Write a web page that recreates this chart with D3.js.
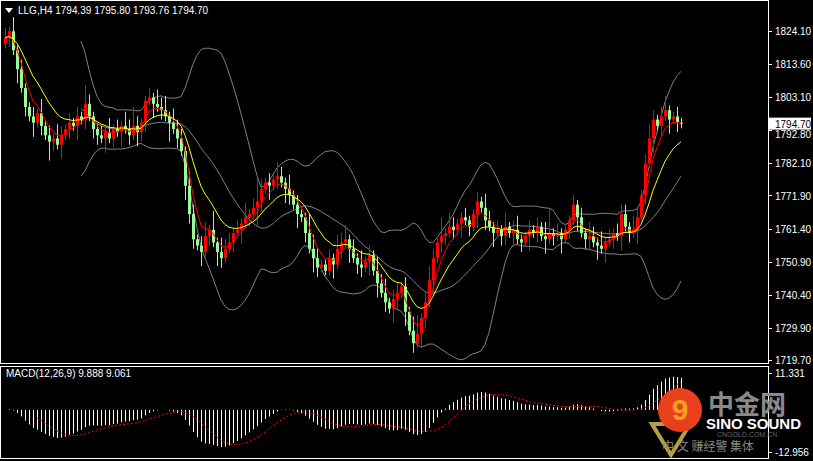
<!DOCTYPE html>
<html>
<head>
<meta charset="utf-8">
<script src="https://d3js.org/d3.v7.min.js"></script>
<style>
body{margin:0;background:#000;}
text{font-family:"Liberation Sans",Arial,sans-serif;font-size:10px;}
</style>
</head>
<body>
<svg id="c" width="813" height="461"></svg>
<script>
// H4 closes
var closes = [1822,1824,1818,1812,1806, 1800,1797,1795,1798,1794, 1791,1789,1790,1788,1791,
 1793,1795,1794,1797,1796, 1801,1797,1793,1791,1790, 1792,1790,1793,1792,1794,
 1793,1791,1794,1792,1795, 1802,1803,1801,1800,1799, 1797,1795,1793,1790,1786,
 1775,1766,1758,1756,1754, 1759,1761,1757,1754,1752, 1755,1757,1760,1761,1763,
 1765,1766,1768,1770,1774, 1776,1775,1777,1778,1776, 1774,1772,1769,1766,1765,
 1760,1755,1752,1749,1750, 1748,1752,1750,1755,1757, 1758,1755,1752,1750,1749,
 1751,1753,1748,1744,1741, 1738,1736,1739,1741,1743, 1735,1729,1725,1728,1733,
 1738,1745,1752,1757,1759, 1760,1762,1761,1763,1765, 1764,1762,1766,1770,1768,
 1764,1762,1760,1761,1759, 1762,1760,1761,1758,1757, 1759,1761,1760,1762,1759,
 1758,1760,1759,1760,1758, 1761,1764,1769,1765,1760, 1758,1759,1757,1756,1755,
 1757,1758,1760,1759,1766, 1762,1760,1761,1765,1772, 1782,1790,1796,1794,1797,
 1799,1796,1797,1795,1794.7];
var firstOpen = 1820;
// wick lengths above / below the body, in dollars
var upWick = "2131211213121321212142112131213242112132313221321231413221213125212132131211432112132312131213231221213412321413211211213212131231121213512111212132131212221321232123112121";
var dnWick = "1213121312142131213121221312131213221312141213221312132112131214213121321312132111312131221313121321312132131221213121312131221312131213121312131221313121312131213121312131";
var yTicks = [1824.10,1813.60,1803.10,1792.80,1782.10,1771.90,1761.40,1750.90,1740.40,1729.90,1719.70];
var macdTicks = [11.331,-12.956];

var W = 813, H = 461, plotR = 768, mainTop = 8, mainBot = 363, mTop = 366, mBot = 458;
var svg = d3.select("#c");
svg.append("rect").attr("width",W).attr("height",H).attr("fill","#000");

var data = closes.map(function(c,i){
  var o = i ? closes[i-1] : firstOpen;
  return {i:i, o:o, c:c, h:Math.max(o,c)+ +upWick[i]*1.5, l:Math.min(o,c)- +dnWick[i]*1.5};
});

var x = d3.scaleLinear().domain([0,170]).range([5,685]);
var y = d3.scaleLinear().domain([1719.70,1824.10]).range([360,31]);

// indicators
function sma(arr,n){return arr.map(function(v,i){ if(i<n-1) return null; return d3.mean(arr.slice(i-n+1,i+1)); });}
function ema(arr,n){var k=2/(n+1),p=arr[0];return arr.map(function(v){p=v*k+p*(1-k);return p;});}
var bbMid = sma(closes,20);
var bbUp = [], bbDn = [];
closes.forEach(function(v,i){
  if(i<19){bbUp.push(null);bbDn.push(null);return;}
  var sd = d3.deviation(closes.slice(i-19,i+1))*Math.sqrt(19/20);
  bbUp.push(bbMid[i]+2*sd); bbDn.push(bbMid[i]-2*sd);
});
var maFast = ema(closes,5), maSlow = ema(closes,12);
var e12 = ema(closes,12), e26 = ema(closes,26);
var macd = e12.map(function(v,i){return v-e26[i];});
var signal = sma(macd,9);

var main = svg.append("g");
main.append("clipPath").attr("id","clp").append("rect").attr("x",1).attr("y",mainTop).attr("width",plotR-1).attr("height",mainBot-mainTop);
var g = main.append("g").attr("clip-path","url(#clp)");

function line(arr,col){
  g.append("path").datum(arr.map(function(v,i){return [i,v];}).filter(function(d){return d[1]!=null;}))
   .attr("fill","none").attr("stroke",col).attr("stroke-width",1)
   .attr("d",d3.line().x(function(d){return x(d[0]);}).y(function(d){return y(d[1]);}));
}
line(bbUp,"#808080"); line(bbMid,"#808080"); line(bbDn,"#808080");

var cg = g.selectAll("g.k").data(data).enter().append("g");
cg.append("line").attr("x1",function(d){return x(d.i)+0.5;}).attr("x2",function(d){return x(d.i)+0.5;})
  .attr("y1",function(d){return y(d.h);}).attr("y2",function(d){return y(d.l);})
  .attr("stroke",function(d){return d.c>=d.o?"#ff0000":"#98fb98";});
cg.append("rect").attr("x",function(d){return x(d.i)-1;}).attr("width",3)
  .attr("y",function(d){return y(Math.max(d.o,d.c));})
  .attr("height",function(d){return Math.max(1,Math.abs(y(d.o)-y(d.c)));})
  .attr("fill",function(d){return d.c>=d.o?"#ff0000":"#98fb98";});

line(maFast,"#ff0000"); line(maSlow,"#ffff00");

// frames
svg.append("rect").attr("x",0.5).attr("y",0.5).attr("width",plotR).attr("height",mainBot).attr("fill","none").attr("stroke","#fff");
svg.append("rect").attr("x",0.5).attr("y",mTop+0.5).attr("width",plotR).attr("height",mBot-mTop).attr("fill","none").attr("stroke","#fff");

// right axis
var last = closes[closes.length-1];
yTicks.forEach(function(t){
  svg.append("line").attr("x1",plotR).attr("x2",plotR+4).attr("y1",Math.round(y(t))+0.5).attr("y2",Math.round(y(t))+0.5).attr("stroke","#fff");
  if (Math.abs(y(t)-y(last)) > 8)
    svg.append("text").attr("x",775).attr("y",y(t)+4).attr("fill","#fff").text(t.toFixed(2));
});
svg.append("text").attr("x",775).attr("y",y(1792.80)+8).attr("fill","#fff").text("1792.80");
svg.append("rect").attr("x",plotR+1).attr("y",y(last)-6).attr("width",42).attr("height",12).attr("fill","#fff");
svg.append("text").attr("x",775).attr("y",y(last)+4).attr("fill","#000").text(last.toFixed(2));

svg.append("path").attr("d","M5,8 L13,8 L9,13 Z").attr("fill","#fff");
svg.append("text").attr("x",18).attr("y",14).attr("fill","#fff").text("LLG,H4  1794.39 1795.80 1793.76 1794.70");

// MACD pane
var ym = d3.scaleLinear().domain([-12.956,11.331]).range([mBot-6,mTop+7]);
var mg = svg.append("g");
data.forEach(function(d,i){
  mg.append("line").attr("x1",x(i)+0.5).attr("x2",x(i)+0.5).attr("y1",ym(0)).attr("y2",ym(macd[i])).attr("stroke","#fff");
});
mg.append("path").datum(signal.map(function(v,i){return [i,v];}).filter(function(d){return d[1]!=null;}))
  .attr("fill","none").attr("stroke","#ff0000").attr("stroke-dasharray","2,2")
  .attr("d",d3.line().x(function(d){return x(d[0]);}).y(function(d){return ym(d[1]);}));
svg.append("text").attr("x",6).attr("y",mTop+11).attr("fill","#fff").text("MACD(12,26,9) 9.888 9.061");
macdTicks.forEach(function(t){
  svg.append("text").attr("x",775).attr("y",ym(t)+4).attr("fill","#fff").text(t.toFixed(3));
  svg.append("line").attr("x1",plotR).attr("x2",plotR+4).attr("y1",Math.round(ym(t))+0.5).attr("y2",Math.round(ym(t))+0.5).attr("stroke","#fff");
});

// watermark
var wm = svg.append("g");
wm.append("path").attr("d","M652,424 L690,424 L671,455 Z").attr("fill","none").attr("stroke","#b8a040").attr("stroke-width",4);
wm.append("circle").attr("cx",680).attr("cy",410).attr("r",22).attr("fill","#e8401c");
wm.append("text").attr("x",680).attr("y",420).attr("text-anchor","middle").attr("fill","#f5a020").style("font-size","30px").style("font-weight","bold").text("9");
wm.append("text").attr("x",708).attr("y",414).attr("fill","#8a8a8a").style("font-family","Noto Sans CJK SC").style("font-size","26px").style("font-weight","bold").text("中金网");
wm.append("text").attr("x",706).attr("y",429).attr("fill","#fff").style("font-size","15px").style("font-weight","bold").text("SINO SOUND");
wm.append("text").attr("x",717).attr("y",437).attr("fill","#666").style("font-size","7px").text("CNGOLD.COM.CN");
wm.append("text").attr("x",662).attr("y",451).attr("fill","#888").style("font-family","Noto Sans CJK SC").style("font-size","12px").text("中 文  赚经警  集体");
</script>
</body>
</html>
